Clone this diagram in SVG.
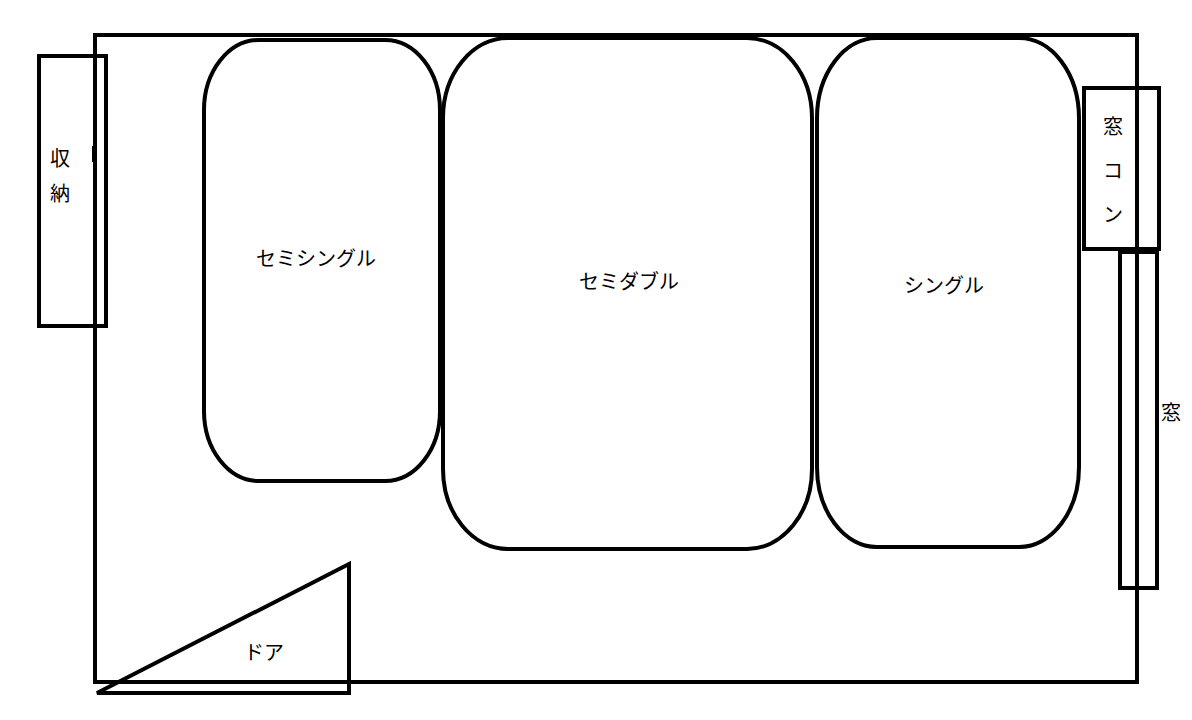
<svg xmlns="http://www.w3.org/2000/svg" width="1192" height="720" viewBox="0 0 1192 720">
<style>
.s{fill:none;stroke:#000;stroke-width:4}
.t{font-family:"Noto Sans CJK JP","Noto Sans",sans-serif;font-size:20px;fill:#000;text-anchor:middle}
</style>
<rect width="1192" height="720" fill="#fff"/>
<g id="room"><rect class="s" x="95" y="35" width="1042" height="647"/></g>
<g id="storage"><rect class="s" x="39" y="56" width="67" height="270"/><rect x="92" y="146" width="5" height="16" fill="#000"/><text class="t" x="60" y="166">収</text><text class="t" x="60" y="201">納</text></g>
<g id="semisingle"><rect class="s" x="204" y="40" width="236" height="441" rx="55" ry="70"/><text class="t" x="316" y="266">セミシングル</text></g>
<g id="semidouble"><rect class="s" x="443" y="38" width="369" height="511" rx="65" ry="80"/><text class="t" x="629" y="289">セミダブル</text></g>
<g id="single"><rect class="s" x="817" y="38" width="262" height="509" rx="60" ry="80"/><text class="t" x="944" y="293">シングル</text></g>
<g id="ac"><rect class="s" x="1084" y="88" width="75" height="161"/><text class="t" x="1113" y="134">窓</text><text class="t" x="1113" y="178">コ</text><text class="t" x="1113" y="222">ン</text></g>
<g id="window"><rect class="s" x="1120" y="252" width="37" height="336"/><text class="t" x="1171" y="420">窓</text></g>
<g id="door"><polygon class="s" points="97,693 349,564 349,693"/><text class="t" x="264" y="660">ドア</text></g>
<g id="connectors"/>
</svg>
